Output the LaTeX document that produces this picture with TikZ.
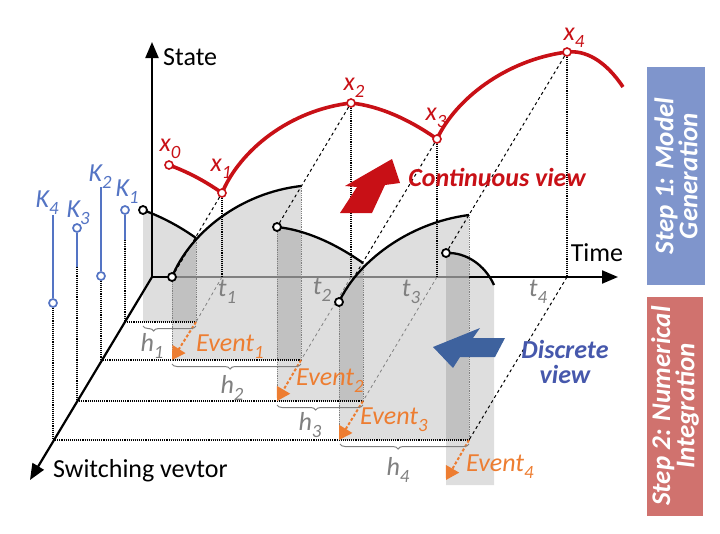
\documentclass[tikz,border=0pt]{standalone}
\usepackage{fontspec}
\setmainfont{Carlito}
\usepackage{graphicx}
\usetikzlibrary{arrows.meta, decorations.pathreplacing}

\definecolor{curvered}{RGB}{200,16,22}
\definecolor{kblue}{RGB}{84,116,196}
\definecolor{arrowblue}{RGB}{62,98,158}
\definecolor{viewblue}{RGB}{70,88,172}
\definecolor{eventorange}{RGB}{237,125,49}
\definecolor{labelgray}{RGB}{128,128,128}
\definecolor{stepblue}{RGB}{127,149,204}
\definecolor{stepred}{RGB}{208,114,110}

\newcommand{\lowidx}[1]{\raisebox{-0.28em}{\scalebox{0.72}{#1}}}

\begin{document}
\begin{tikzpicture}[x=1pt, y=-1pt,
  axisline/.style={line width=2.2pt, -{Triangle[length=16pt, width=13pt]}},
  redcurve/.style={curvered, line width=3.6pt},
  modecurve/.style={line width=2.3pt},
  areafill/.style={fill=black, fill opacity=0.13},
  reddot/.style={circle, draw=curvered, fill=white, line width=1.6pt, inner sep=0pt, minimum size=8pt},
  blackdot/.style={circle, draw, fill=white, line width=1.8pt, inner sep=0pt, minimum size=8pt},
  bluedot/.style={circle, draw=kblue, fill=white, line width=1.7pt, inner sep=0pt, minimum size=8pt},
  kline/.style={kblue, line width=2.8pt},
  dropline/.style={densely dotted, line width=1.1pt},
  sideline/.style={densely dotted, line width=0.8pt, gray},
  projline/.style={dashed, line width=1pt},
  tline/.style={dashed, line width=0.8pt, gray},
  eventarrow/.style={eventorange, line width=2pt, dash pattern=on 3pt off 2pt, -{Triangle[length=13pt, width=15pt]}},
  hbrace/.style={labelgray, line width=1pt, decorate, decoration={brace, mirror, amplitude=5pt}},
  lbl/.style={font=\fontsize{26}{28}\selectfont, inner sep=0pt},
  ilbl/.style={font=\fontsize{26}{28}\selectfont\itshape, inner sep=0pt},
  viewlbl/.style={font=\fontsize{26}{25}\selectfont\bfseries\itshape, align=center, inner sep=0pt},
  stepbox/.style={rotate=90, text=white, font=\fontsize{27}{23}\selectfont\bfseries\itshape, align=center, inner sep=0pt}
]
  \useasboundingbox (0,0) rectangle (720,533);

  % axes
  \coordinate (O) at (152,277);
  \coordinate (stateEnd) at (152,42);
  \coordinate (timeEnd) at (618,277);
  \coordinate (switchEnd) at (30,480);
  \coordinate (t1) at (222,277);
  \coordinate (t2) at (351,277);
  \coordinate (t3) at (437,277);
  \coordinate (t4) at (567,277);
  % continuous trajectory
  \coordinate (p0) at (169,165);
  \coordinate (p1) at (222,193);
  \coordinate (p2) at (351,103);
  \coordinate (p3) at (437,139);
  \coordinate (p4) at (567,52);
  \coordinate (pEnd) at (623,87);
  % pieces in the mode planes
  \coordinate (s1) at (143,210); \coordinate (e1) at (196,238);
  \coordinate (s2) at (172,277); \coordinate (e2) at (301,186);
  \coordinate (s3) at (277,227); \coordinate (e3) at (363,263);
  \coordinate (s4) at (339,302); \coordinate (e4) at (469,215);
  \coordinate (s5) at (446,253); \coordinate (e5) at (494,285);
  % floors
  \coordinate (k1) at (125,322); \coordinate (q1) at (196,322);
  \coordinate (k2) at (101,360); \coordinate (q2) at (301,360);
  \coordinate (k3) at (77,401);  \coordinate (q3) at (363,401);
  \coordinate (k4) at (53,440);  \coordinate (q4) at (469,440);
  \coordinate (v1) at (172,360);
  \coordinate (v2) at (277,401);
  \coordinate (v3) at (339,440);
  \coordinate (v4) at (446,480);
  \coordinate (b5) at (446,485); \coordinate (c5) at (494,485);
  % switch lines
  \coordinate (K1a) at (125,240);
  \coordinate (K2a) at (101,187);
  \coordinate (K3a) at (77,267);
  \coordinate (K4a) at (53,215);

  % shaded areas
  \fill[areafill] (s1 |- q1) -- (s1) .. controls (162,217) and (179,226) .. (e1) -- (q1) -- cycle;
  \fill[areafill] (v1) -- (s2) .. controls (190,233) and (240,193) .. (e2) -- (q2) -- cycle;
  \fill[areafill] (v2) -- (s3) .. controls (306,230) and (336,244) .. (e3) -- (q3) -- cycle;
  \fill[areafill] (v3) -- (s4) .. controls (357,263) and (407,223) .. (e4) -- (q4) -- cycle;
  \fill[areafill] (b5) -- (s5) .. controls (466,252) and (485,265) .. (e5) -- (c5) -- cycle;

  \draw[dropline] (k1) -- (q1);
  \draw[dropline] (k2) -- (q2);
  \draw[dropline] (k3) -- (q3);
  \draw[dropline] (k4) -- (q4);
  \draw[sideline] (e1) -- (q1);
  \draw[sideline] (s2) -- (v1);
  \draw[sideline] (e2) -- (q2);
  \draw[sideline] (s3) -- (v2);
  \draw[sideline] (e3) -- (q3);
  \draw[sideline] (s4) -- (v3);
  \draw[sideline] (e4) -- (q4);
  \draw[tline] (t1) -- (q1);
  \draw[tline] (t2) -- (q2);
  \draw[tline] (t3) -- (q3);
  \draw[projline] (t4) -- (q4);

  \draw[axisline] (O) -- (stateEnd);
  \draw[axisline] (O) -- (timeEnd);
  \draw[axisline] (O) -- (switchEnd);
  \draw[labelgray, line width=2.2pt] (s2) -- (t4 -| q4);

  % trajectories
  \draw[redcurve] (p0) .. controls (188,172) and (205,181) .. (p1)
    .. controls (240,150) and (290,110) .. (p2)
    .. controls (380,106) and (410,120) .. (p3)
    .. controls (455,100) and (505,60) .. (p4)
    .. controls (585,50) and (605,60) .. (pEnd);
  \draw[modecurve] (s1) .. controls (162,217) and (179,226) .. (e1);
  \draw[modecurve] (s2) .. controls (190,233) and (240,193) .. (e2);
  \draw[modecurve] (s3) .. controls (306,230) and (336,244) .. (e3);
  \draw[modecurve] (s4) .. controls (357,263) and (407,223) .. (e4);
  \draw[modecurve] (s5) .. controls (466,252) and (485,265) .. (e5);

  % switching vectors
  \node[bluedot] (K1dot) at (125,210) {};
  \node[bluedot] (K2dot) at (101,276) {};
  \node[bluedot] (K3dot) at (77,228) {};
  \node[bluedot] (K4dot) at (53,303) {};
  \draw[kline] (K1dot) -- (K1a);
  \draw[kline] (K2a) -- (K2dot);
  \draw[kline] (K3dot) -- (K3a);
  \draw[kline] (K4a) -- (K4dot);
  \draw[dropline] (K1a) -- (k1);
  \draw[dropline] (K2dot) -- (k2);
  \draw[dropline] (K3a) -- (k3);
  \draw[dropline] (K4dot) -- (k4);

  \node[reddot] (x0) at (p0) {};
  \node[reddot] (x1) at (p1) {};
  \node[reddot] (x2) at (p2) {};
  \node[reddot] (x3) at (p3) {};
  \node[reddot] (x4) at (p4) {};
  \node[blackdot] (m1) at (s1) {};
  \node[blackdot] (m2) at (s2) {};
  \node[blackdot] (m3) at (s3) {};
  \node[blackdot] (m4) at (s4) {};
  \node[blackdot] (m5) at (s5) {};

  \draw[projline] (x1) -- (m2);
  \draw[projline] (x2) -- (m3);
  \draw[projline] (x3) -- (m4);
  \draw[projline] (x4) -- (m5);
  \draw[dropline] (x1) -- (t1);
  \draw[dropline] (x2) -- (t2);
  \draw[dropline] (x3) -- (t3);
  \draw[dropline] (x4) -- (t4);

  % events
  \draw[eventarrow] (q1) -- (v1);
  \draw[eventarrow] (q2) -- (v2);
  \draw[eventarrow] (q3) -- (v3);
  \draw[eventarrow] (q4) -- (v4);

  \coordinate (h1a) at (143,326); \coordinate (h1b) at (196,326);
  \coordinate (h2a) at (172,364); \coordinate (h2b) at (301,364);
  \coordinate (h3a) at (277,405); \coordinate (h3b) at (363,405);
  \coordinate (h4a) at (340,444); \coordinate (h4b) at (469,444);
  \draw[hbrace, decoration={aspect=0.2}] (h1a) -- (h1b);
  \draw[hbrace, decoration={aspect=0.45}] (h2a) -- (h2b);
  \draw[hbrace, decoration={aspect=0.45}] (h3a) -- (h3b);
  \draw[hbrace, decoration={aspect=0.45}] (h4a) -- (h4b);

  % labels
  \node[lbl, anchor=west] (state) at (163,57) {State};
  \node[lbl] (time) at (597,253) {Time};
  \node[lbl, anchor=west] (switch) at (53,471) {Switching vevtor};
  \node[ilbl, text=curvered] (x0lbl) at (170,149) {x\lowidx{0}};
  \node[ilbl, text=curvered] (x1lbl) at (221,169) {x\lowidx{1}};
  \node[ilbl, text=curvered] (x2lbl) at (354,88) {x\lowidx{2}};
  \node[ilbl, text=curvered] (x3lbl) at (436,118) {x\lowidx{3}};
  \node[ilbl, text=curvered] (x4lbl) at (574,38) {x\lowidx{4}};
  \node[ilbl, text=kblue] (K1) at (127,192) {K\lowidx{1}};
  \node[ilbl, text=kblue] (K2) at (100,177) {K\lowidx{2}};
  \node[ilbl, text=kblue] (K3) at (78,213) {K\lowidx{3}};
  \node[ilbl, text=kblue] (K4) at (47,203) {K\lowidx{4}};
  \node[ilbl, text=labelgray] (t1lbl) at (227,292) {t\lowidx{1}};
  \node[ilbl, text=labelgray] (t2lbl) at (322,290) {t\lowidx{2}};
  \node[ilbl, text=labelgray] (t3lbl) at (411,292) {t\lowidx{3}};
  \node[ilbl, text=labelgray] (t4lbl) at (538,292) {t\lowidx{4}};
  \node[ilbl, text=labelgray] (h1) at (152,346) {h\lowidx{1}};
  \node[ilbl, text=labelgray] (h2) at (232,388) {h\lowidx{2}};
  \node[ilbl, text=labelgray] (h3) at (310,425) {h\lowidx{3}};
  \node[ilbl, text=labelgray] (h4) at (398,470) {h\lowidx{4}};
  \node[ilbl, text=eventorange, anchor=west] (ev1) at (196,347) {Event\lowidx{1}};
  \node[ilbl, text=eventorange, anchor=west] (ev2) at (296,381) {Event\lowidx{2}};
  \node[ilbl, text=eventorange, anchor=west] (ev3) at (360,420) {Event\lowidx{3}};
  \node[ilbl, text=eventorange, anchor=west] (ev4) at (466,467) {Event\lowidx{4}};

  % views
  \fill[curvered] (340,213) -- (357,187) -- (345,186) -- (392,159) -- (400,183) -- (385,185) -- (372,213) -- cycle;
  \node[viewlbl, text=curvered] (contview) at (497,177) {Continuous view};
  \fill[arrowblue] (433,347) -- (480,328) -- (473,338) -- (505,338) -- (495,357) -- (460,357) -- (453,368) -- cycle;
  \node[viewlbl, text=viewblue] (discview) at (565,362) {Discrete\\view};

  % steps
  \node[stepbox, fill=stepblue, minimum width=218pt, minimum height=58pt] (step1) at (676,176) {Step 1: Model\\Generation};
  \node[stepbox, fill=stepred, minimum width=219pt, minimum height=56pt] (step2) at (675,406) {Step 2: Numerical\\Integration};
\end{tikzpicture}
\end{document}
